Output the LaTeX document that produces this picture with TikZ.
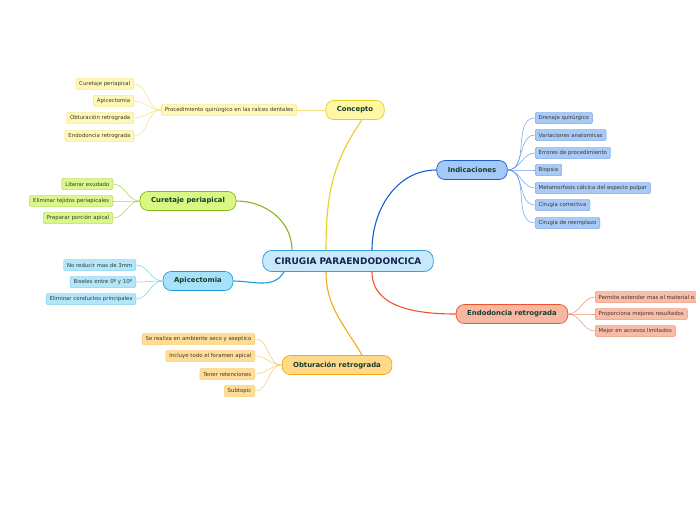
\documentclass[tikz,border=0pt]{standalone}
\usepackage{fontspec}
\setmainfont{DejaVu Sans}
\definecolor{rootfill}{HTML}{C8E9FB}
\definecolor{rootline}{HTML}{3E9BDA}
\definecolor{roottext}{HTML}{14234F}
\definecolor{topictext}{HTML}{173D2C}
\definecolor{subtext}{HTML}{3A3A2A}
% concepto
\definecolor{yelfill}{HTML}{FFF6A6}
\definecolor{yelline}{HTML}{E9D01C}
\definecolor{yelsub}{HTML}{FFF7B8}
\definecolor{yelsubline}{HTML}{F4E27E}
% indicaciones
\definecolor{bluefill}{HTML}{A6C8F7}
\definecolor{blueline}{HTML}{1C5FCB}
\definecolor{bluesub}{HTML}{A9C9F7}
\definecolor{bluesubline}{HTML}{6E9FE6}
% curetaje
\definecolor{grnfill}{HTML}{D8F883}
\definecolor{grnline}{HTML}{86B81A}
\definecolor{grnsub}{HTML}{D9F78C}
\definecolor{grnsubline}{HTML}{AAD653}
% apicectomia
\definecolor{cyanfill}{HTML}{A7E2FA}
\definecolor{cyanline}{HTML}{1BA0DA}
\definecolor{cyansub}{HTML}{B3E6FA}
\definecolor{cyansubline}{HTML}{78CDF0}
% obturacion
\definecolor{orgfill}{HTML}{FFD98A}
\definecolor{orgline}{HTML}{F5AA10}
\definecolor{orgsub}{HTML}{FFDD98}
\definecolor{orgsubline}{HTML}{F8CB6C}
% endodoncia
\definecolor{redfill}{HTML}{F8B7A2}
\definecolor{redline}{HTML}{EF552A}
\definecolor{redsub}{HTML}{F9BCA8}
\definecolor{redsubline}{HTML}{F08E6E}
\tikzset{
  hub/.style={draw=rootline, fill=rootfill, line width=0.8pt, rounded corners=9pt,
    minimum height=21pt, inner xsep=12pt, text=roottext,
    font=\fontsize{9}{10}\selectfont\bfseries},
  topic/.style 2 args={draw=#1, fill=#2, line width=0.7pt, rounded corners=8pt,
    minimum height=19pt, inner xsep=11pt, text=topictext,
    font=\fontsize{6.9}{8}\selectfont\bfseries},
  subtopic/.style 2 args={draw=#1, fill=#2, line width=0.4pt, rounded corners=1.5pt,
    minimum height=11.5pt, inner xsep=3.5pt, inner ysep=1pt, text=subtext,
    font=\fontsize{5.4}{6.4}\selectfont},
  branch/.style={line width=1.1pt, draw=#1},
  twig/.style={line width=0.5pt, draw=#1},
}
\begin{document}
\begin{tikzpicture}[x=1pt, y=-1pt]
  \fill[white] (0,0) rectangle (696,520);
  \useasboundingbox (0,0) rectangle (696,520);

  \node[hub] (root) at (348,261) {CIRUGIA PARAENDODONCICA};

  % Concepto
  \node[topic={yelline}{yelfill}] (concepto) at (355,110) {Concepto};
  \node[subtopic={yelsubline}{yelsub}] (proc) at (229,110) {Procedimiento quirúrgico en las raíces dentales};
  \draw[branch=yelline] ([xshift=-22pt]root.north) to[out=90,in=235] ([xshift=7pt]concepto.south);
  \draw[twig=yelsubline] (concepto.west) -- (proc.east);
  \foreach \y/\t [count=\i] in {84/Curetaje periapical, 101/Apicectomia,
      118/Obturación retrograda, 136/Endodoncia retrograda} {
    \node[subtopic={yelsubline}{yelsub}, anchor=east] (proc\i) at (134,\y) {\t};
    \draw[twig=yelsubline] (proc.west) to[out=180,in=0] (proc\i.east);
  }

  % Indicaciones
  \node[topic={blueline}{bluefill}] (indic) at (472,170) {Indicaciones};
  \draw[branch=blueline] ([xshift=24pt]root.north) to[out=90,in=180] (indic.west);
  \foreach \y/\t [count=\i] in {118/Drenaje quirúrgico, 135/Variaciones anatomicas,
      153/Errores de procedimiento, 170/Biopsia,
      188/Metamorfosis cálcica del espacio pulpar, 205/Cirugia correctiva,
      223/Cirugia de reemplazo} {
    \node[subtopic={bluesubline}{bluesub}, anchor=west] (indic\i) at (535,\y) {\t};
    \draw[twig=bluesubline] (indic.east) to[out=0,in=180] (indic\i.west);
  }

  % Curetaje periapical
  \node[topic={grnline}{grnfill}] (curet) at (188,201) {Curetaje periapical};
  \draw[branch=grnline] ([xshift=-56pt]root.north) to[out=90,in=0] (curet.east);
  \foreach \y/\t [count=\i] in {184/Liberar exudado, 201/Eliminar tejidos periapicales,
      218/Preparar porción apical} {
    \node[subtopic={grnsubline}{grnsub}, anchor=east] (curet\i) at (113,\y) {\t};
    \draw[twig=grnsubline] (curet.west) to[out=180,in=0] (curet\i.east);
  }

  % Apicectomia
  \node[topic={cyanline}{cyanfill}] (apic) at (198,281) {Apicectomia};
  \draw[branch=cyanline] ([xshift=-64pt]root.south) to[out=-120,in=0] (apic.east);
  \foreach \y/\t [count=\i] in {265/No reducir mas de 3mm, 282/Biseles entre 0º y 10º,
      299/Eliminar conductos principales} {
    \node[subtopic={cyansubline}{cyansub}, anchor=east] (apic\i) at (136,\y) {\t};
    \draw[twig=cyansubline] (apic.west) to[out=180,in=0] (apic\i.east);
  }

  % Obturacion retrograda
  \node[topic={orgline}{orgfill}] (obtur) at (337,365) {Obturación retrograda};
  \draw[branch=orgline] ([xshift=-22pt]root.south) to[out=-90,in=120] ([xshift=25pt]obtur.north);
  \foreach \y/\t [count=\i] in {339/Se realiza en ambiente seco y aseptico,
      356/Incluye todo el foramen apical, 374/Tener retenciones, 391/Subtopic} {
    \node[subtopic={orgsubline}{orgsub}, anchor=east] (obtur\i) at (255,\y) {\t};
    \draw[twig=orgsubline] (obtur.west) to[out=180,in=0] (obtur\i.east);
  }

  % Endodoncia retrograda
  \node[topic={redline}{redfill}] (endo) at (512,314) {Endodoncia retrograda};
  \draw[branch=redline] ([xshift=24pt]root.south) to[out=-90,in=180] (endo.west);
  \foreach \y/\t [count=\i] in {297/Permite extender mas el material o,
      314/Proporciona mejores resultados, 331/Mejor en accesos limitados} {
    \node[subtopic={redsubline}{redsub}, anchor=west] (endo\i) at (595,\y) {\t};
    \draw[twig=redsubline] (endo.east) to[out=0,in=180] (endo\i.west);
  }
\end{tikzpicture}
\end{document}
